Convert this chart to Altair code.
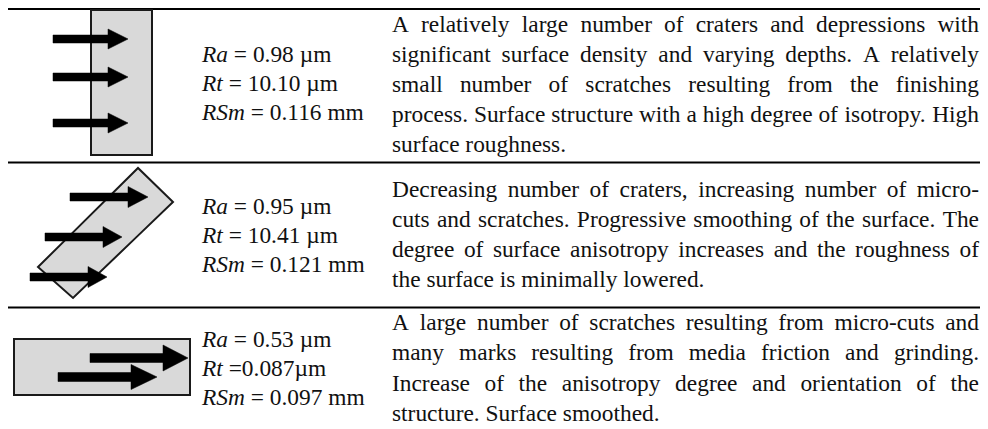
import altair as alt
import pandas as pd

# ---------------- content ----------------
param_names = ["Ra", "Rt", "RSm"]
param_values_row1 = ["= 0.98 µm", "= 10.10 µm", "= 0.116 mm"]
param_values_row2 = ["= 0.95 µm", "= 10.41 µm", "= 0.121 mm"]
param_values_row3 = ["= 0.53 µm", "=0.087µm", "= 0.097 mm"]
param_values = [param_values_row1, param_values_row2, param_values_row3]

desc_row1 = [
    "A relatively large number of craters and depressions with",
    "significant surface density and varying depths. A relatively",
    "small number of scratches resulting from the finishing",
    "process. Surface structure with a high degree of isotropy. High",
    "surface roughness.",
]
desc_row2 = [
    "Decreasing number of craters, increasing number of micro-",
    "cuts and scratches. Progressive smoothing of the surface. The",
    "degree of surface anisotropy increases and the roughness of",
    "the surface is minimally lowered.",
]
desc_row3 = [
    "A large number of scratches resulting from micro-cuts and",
    "many marks resulting from media friction and grinding.",
    "Increase of the anisotropy degree and orientation of the",
    "structure. Surface smoothed.",
]
descriptions = [desc_row1, desc_row2, desc_row3]

# ---------------- layout (pixel space of the page) ----------------
W, H = 972, 421
X0, Y0 = 8, 8
FS = 23.4
FONT = "Liberation Serif, Times New Roman, Times, serif"
INK = "#111111"

rule_ys = [9, 162.5, 307.5]
rule_x1, rule_x2 = 8, 980
desc_left, desc_right = 392, 979
desc_first = [31.7, 196.7, 330.3]
desc_lh = 30.1
param_left = 202
param_mid = [90.7, 243.0, 376.0]
param_lh = 29.2

# Times-compatible advance widths (1/1000 em)
REG = dict(zip("abcdefghijklmnopqrstuvwxyz",
               [444, 500, 444, 500, 444, 333, 500, 500, 278, 278, 500, 278, 778,
                500, 500, 500, 500, 333, 389, 278, 500, 500, 722, 500, 500, 444]))
REG.update(dict(zip("ABCDEFGHIJKLMNOPQRSTUVWXYZ",
                    [722, 667, 667, 722, 611, 556, 722, 722, 333, 389, 722, 611, 889,
                     722, 722, 556, 722, 667, 556, 611, 722, 722, 944, 722, 722, 611])))
REG.update({" ": 250, ".": 250, ",": 250, "-": 333, "=": 564, "µ": 500})
REG.update({str(d): 500 for d in range(10)})
ITAL = {"R": 611, "a": 500, "t": 278, "S": 500, "m": 722}


def tw(s, table=REG):
    return sum(table.get(c, 500) for c in s) * FS / 1000.0


# ---------------- text rows ----------------
left_rows, center_rows, right_rows = [], [], []
for r, lines in enumerate(descriptions):
    for i, line in enumerate(lines):
        y = desc_first[r] + i * desc_lh
        if i == len(lines) - 1:
            left_rows.append({"x": desc_left, "y": y, "t": line})
            continue
        words = line.split(" ")
        widths = [tw(w) for w in words]
        gap = (desc_right - desc_left - sum(widths)) / (len(words) - 1)
        xpos = desc_left
        for j, (w, wd) in enumerate(zip(words, widths)):
            if j == 0:
                left_rows.append({"x": desc_left, "y": y, "t": w})
            elif j == len(words) - 1:
                right_rows.append({"x": desc_right, "y": y, "t": w})
            else:
                center_rows.append({"x": xpos + wd / 2, "y": y, "t": w})
            xpos += wd + gap

ital_rows, val_rows = [], []
for r, vals in enumerate(param_values):
    for k, (nm, v) in enumerate(zip(param_names, vals)):
        y = param_mid[r] + (k - 1) * param_lh
        ital_rows.append({"x": param_left, "y": y, "t": nm})
        val_rows.append({"x": param_left + tw(nm, ITAL) + tw(" "), "y": y, "t": v})

# ---------------- shapes ----------------
def poly_rows(pid, pts):
    rows = []
    n = len(pts)
    for x in sorted(set(p[0] for p in pts)):
        ys = []
        for k in range(n):
            (ax, ay), (bx, by) = pts[k], pts[(k + 1) % n]
            if min(ax, bx) <= x <= max(ax, bx):
                if ax == bx:
                    ys += [ay, by]
                else:
                    t = (x - ax) / (bx - ax)
                    ys.append(ay + t * (by - ay))
        rows.append({"id": pid, "x": x, "y": min(ys), "y2": max(ys)})
    return rows


def rect(x1, y1, x2, y2):
    return [(x1, y1), (x2, y1), (x2, y2), (x1, y2)]


plates = [
    rect(91, 10, 152, 155),
    [(138, 168), (173, 202), (73, 298), (38, 267)],
    rect(14, 339, 190, 395),
]
# arrows: (shaft start, head base, tip, centre y, shaft half thickness, head half height)
arrows = [
    (53, 108, 128, 39, 4, 10), (53, 108, 128, 77, 4, 10), (53, 108, 128, 123, 4, 10),
    (70, 128, 148, 197, 4, 10.5), (45, 103, 122, 237, 4, 10.5), (30, 88, 107, 277, 4, 10.5),
    (90, 163, 188, 358, 4.5, 13), (58, 131, 157, 377, 4.5, 12.5),
]

plate_rows = []
for i, p in enumerate(plates):
    plate_rows += poly_rows(f"p{i}", p)
arrow_rows = []
for i, (xs, xb, xt, cy, sh, hh) in enumerate(arrows):
    arrow_rows += poly_rows(f"s{i}", rect(xs, cy - sh, xb + 1, cy + sh))
    arrow_rows += poly_rows(f"h{i}", [(xb, cy - hh), (xt, cy), (xb, cy + hh)])

rule_rows = [{"x": rule_x1, "x2": rule_x2, "y": y} for y in rule_ys]

# ---------------- chart ----------------
sx = alt.Scale(domain=[X0, X0 + W], nice=False, zero=False)
sy = alt.Scale(domain=[Y0, Y0 + H], nice=False, zero=False, reverse=True)
X = alt.X("x:Q", scale=sx, axis=None)
Y = alt.Y("y:Q", scale=sy, axis=None)

plates_layer = alt.Chart(pd.DataFrame(plate_rows)).mark_area(
    fill="#d9d9d9", stroke="#1a1a1a", strokeWidth=2, opacity=1, strokeJoin="miter"
).encode(x=X, y=alt.Y("y:Q", scale=sy, axis=None, stack=None), y2="y2:Q", detail="id:N")

arrows_layer = alt.Chart(pd.DataFrame(arrow_rows)).mark_area(
    fill="#000000", stroke="#000000", strokeWidth=0.5, opacity=1
).encode(x=X, y=alt.Y("y:Q", scale=sy, axis=None, stack=None), y2="y2:Q", detail="id:N")

rules_layer = alt.Chart(pd.DataFrame(rule_rows)).mark_rule(
    color="#000000", strokeWidth=2
).encode(x=X, x2="x2:Q", y=Y)


def text_layer(rows, align, style="normal"):
    return alt.Chart(pd.DataFrame(rows)).mark_text(
        align=align, baseline="alphabetic", font=FONT, fontSize=FS,
        fontStyle=style, color=INK
    ).encode(x=X, y=Y, text="t:N")


chart = alt.layer(
    rules_layer,
    plates_layer,
    arrows_layer,
    text_layer(left_rows, "left"),
    text_layer(center_rows, "center"),
    text_layer(right_rows, "right"),
    text_layer(ital_rows, "left", "italic"),
    text_layer(val_rows, "left"),
).properties(
    width=W, height=H, padding=0, autosize="none", background="white"
).configure_view(stroke=None)

chart.save("out.html", embed_options={"renderer": "svg", "actions": False})
